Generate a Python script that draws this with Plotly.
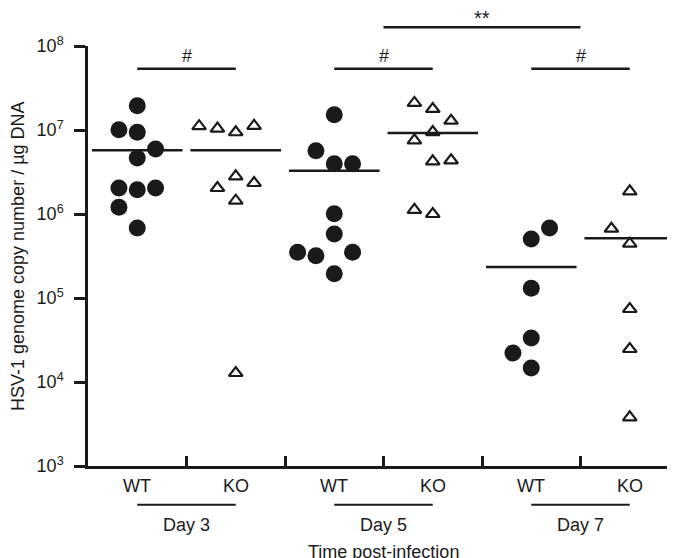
import plotly.graph_objects as go

# genotype per column and day groups
genotypes = ["WT", "KO", "WT", "KO", "WT", "KO"]
days = ["Day 3", "Day 5", "Day 7"]

# HSV-1 genome copies / ug DNA (one list per column)
d3_wt = [1.95e7, 1.01e7, 9.4e6, 5.94e6, 4.64e6, 2.04e6, 1.95e6, 2.04e6, 1.2e6, 6.8e5]
d3_ko = [1.11e7, 1.04e7, 9.4e6, 1.12e7, 2.81e6, 2.04e6, 2.34e6, 1.44e6, 1.28e4]
d5_wt = [1.52e7, 5.67e6, 3.97e6, 3.97e6, 1.01e6, 5.78e5, 3.5e5, 3.19e5, 3.5e5, 1.95e5]
d5_ko = [2.1e7, 1.78e7, 1.29e7, 9.46e6, 7.54e6, 4.24e6, 4.36e6, 1.12e6, 1.0e6]
d7_wt = [6.81e5, 5.04e5, 1.31e5, 3.34e4, 2.21e4, 1.47e4]
d7_ko = [1.86e6, 6.68e5, 4.43e5, 7.4e4, 2.47e4, 3.8e3]

# horizontal slot of each dot inside its column (dot-plot spreading)
d3_wt_slot = [0, -1, 0, 1, 0, -1, 0, 1, -1, 0]
d3_ko_slot = [-2, -1, 0, 1, 0, -1, 1, 0, 0]
d5_wt_slot = [0, -1, 0, 1, 0, 0, -2, -1, 1, 0]
d5_ko_slot = [-1, 0, 1, 0, -1, 0, 1, -1, 0]
d7_wt_slot = [1, 0, 0, 0, -1, 0]
d7_ko_slot = [0, -1, 0, 0, 0, 0]

# group means (horizontal bars)
means = [5.73e6, 5.73e6, 3.28e6, 9.21e6, 2.34e5, 5.14e5]

columns = [d3_wt, d3_ko, d5_wt, d5_ko, d7_wt, d7_ko]
slots = [d3_wt_slot, d3_ko_slot, d5_wt_slot, d5_ko_slot, d7_wt_slot, d7_ko_slot]

ink = "#1a1a1a"
font = "Liberation Sans, Arial, Helvetica, sans-serif"
slot_w = 0.186
plot_h = 420  # pixel height of the plotting area

fig = go.Figure()

for i, (vals, sl) in enumerate(zip(columns, slots)):
    xs = [i + 0.5 + s * slot_w for s in sl]
    if genotypes[i] == "WT":
        marker = dict(symbol="circle", size=17, color=ink, line=dict(width=0))
    else:
        marker = dict(symbol="triangle-up-open", size=12, color=ink, line=dict(width=2.2, color=ink))
    fig.add_trace(go.Scatter(x=xs, y=vals, mode="markers", marker=marker, showlegend=False))
    # mean line
    fig.add_trace(go.Scatter(x=[i + 0.04, i + 0.96], y=[means[i], means[i]], mode="lines",
                             line=dict(color=ink, width=2.5), showlegend=False))

# significance bars (within each day, and Day 5 vs Day 7)
for k in range(3):
    x0, x1 = 2 * k + 0.5, 2 * k + 1.5
    fig.add_shape(type="line", xref="x", yref="paper", x0=x0, x1=x1, y0=0.946, y1=0.946,
                  line=dict(color=ink, width=2.5))
    fig.add_annotation(x=(x0 + x1) / 2, xref="x", y=0.946, yref="paper", text="#", showarrow=False,
                       yanchor="bottom", yshift=1, font=dict(size=18, color=ink, family=font))
fig.add_shape(type="line", xref="x", yref="paper", x0=3, x1=5, y0=1.0445, y1=1.0445,
              line=dict(color=ink, width=2.5))
fig.add_annotation(x=4, xref="x", y=1.0445, yref="paper", text="**", showarrow=False,
                   yanchor="bottom", yshift=-4, font=dict(size=20, color=ink, family=font))

# category labels, day underlines and day labels
for i, g in enumerate(genotypes):
    fig.add_annotation(x=i + 0.5, xref="x", y=0, yref="paper", text=g, showarrow=False,
                       yanchor="middle", yshift=-20, font=dict(size=18, color=ink, family=font))
for k, d in enumerate(days):
    y_line = -38.7 / plot_h
    fig.add_shape(type="line", xref="x", yref="paper", x0=2 * k + 0.5, x1=2 * k + 1.5,
                  y0=y_line, y1=y_line, line=dict(color=ink, width=2))
    fig.add_annotation(x=2 * k + 1, xref="x", y=0, yref="paper", text=d, showarrow=False,
                       yanchor="middle", yshift=-59, font=dict(size=18, color=ink, family=font))

fig.add_annotation(x=0.5, xref="paper", y=0, yref="paper", text="Time post-infection", showarrow=False,
                   yanchor="middle", yshift=-86, font=dict(size=18, color=ink, family=font))
fig.add_annotation(x=0, xref="paper", y=0.5, yref="paper", text="HSV-1 genome copy number / µg DNA",
                   showarrow=False, textangle=-90, xanchor="center", xshift=-70,
                   font=dict(size=18, color=ink, family=font))

tick_vals = [10 ** p for p in range(3, 9)]
tick_text = ["10<sup>%d</sup>" % p for p in range(3, 9)]

fig.update_xaxes(range=[0, 6], showline=True, linecolor=ink, linewidth=2.5, ticks="inside",
                 tickvals=[1, 2, 3, 4, 5, 6], ticklen=10, tickwidth=2.5, tickcolor=ink,
                 showticklabels=False, showgrid=False, zeroline=False)
fig.update_yaxes(type="log", range=[3, 8], showline=True, linecolor=ink, linewidth=2.5, ticks="outside",
                 tickvals=tick_vals, ticktext=tick_text, ticklen=11, tickwidth=2.5, tickcolor=ink,
                 ticklabelstandoff=7, showgrid=False, zeroline=False,
                 tickfont=dict(size=18, color=ink, family=font))

fig.update_layout(width=675, height=558, margin=dict(l=80, r=4, t=38, b=100),
                  plot_bgcolor="white", paper_bgcolor="white",
                  font=dict(family=font, color=ink))

fig.write_html("out.html")
